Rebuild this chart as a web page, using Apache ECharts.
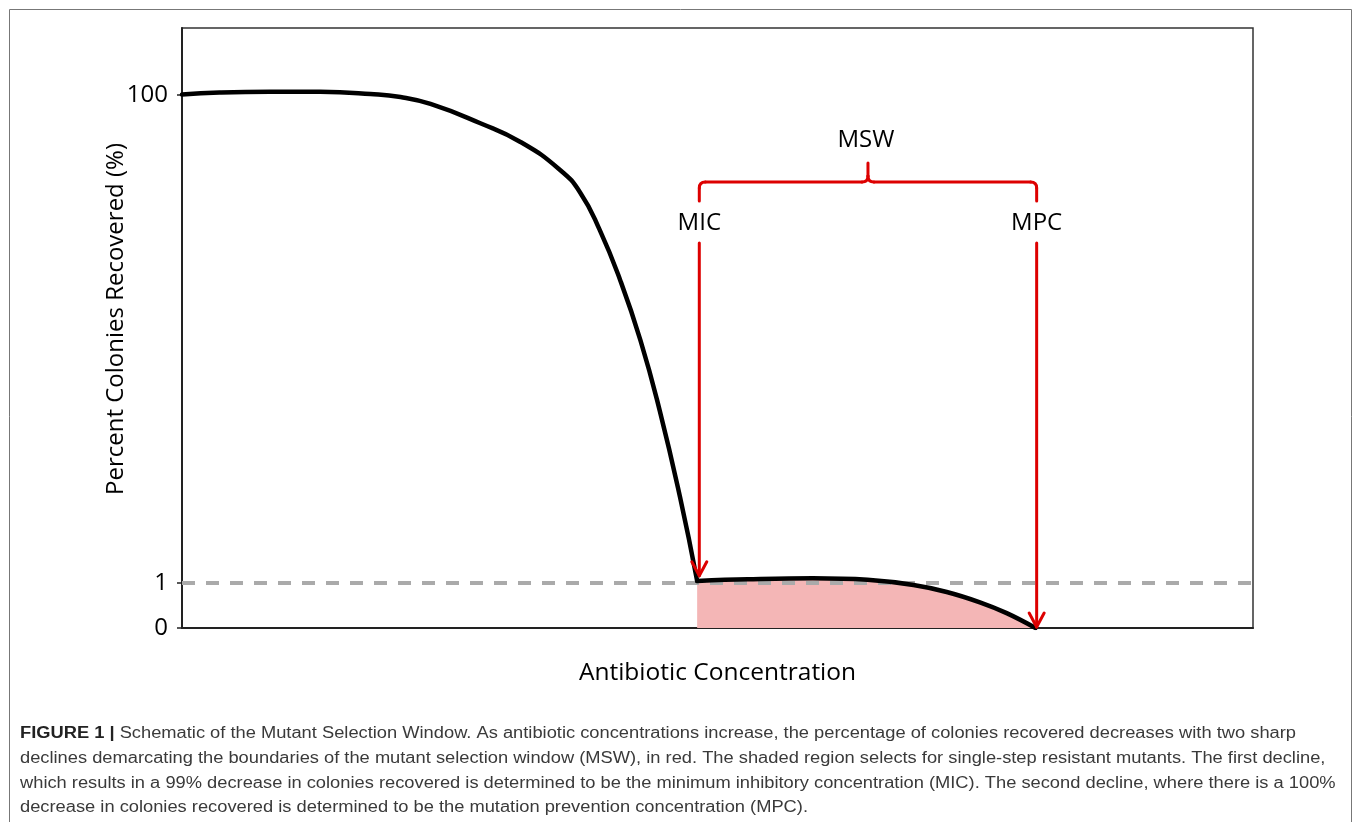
<!DOCTYPE html>
<html>
<head>
<meta charset="utf-8">
<script src="https://cdn.jsdelivr.net/npm/echarts@6/dist/echarts.min.js"></script>
<style>
html,body{margin:0;padding:0;background:#fff;}
#c{width:1357px;height:822px;}
</style>
</head>
<body>
<div id="c"></div>
<script>
// ---- data (schematic) ----
const upperConc = [0, 3.5, 8.2, 12.9, 17.6, 20.4, 23.2, 27.8, 31.6, 35.3, 37.2, 39.0, 40.9, 42.8, 44.6, 46.5, 48.1];
const upperPct  = [100.5, 102.4, 103.2, 103, 100.9, 98.1, 91.9, 76.8, 64.2, 49.3, 39.7, 28.0, 17.5, 9.9, 5.1, 2.25, 1.02];
const lowerConc = [48.1, 52.8, 58.9, 64.0, 68.3, 71.4, 74.5, 77.0, 79.7];
const lowerPct  = [1.02, 1.035, 1.045, 1.03, 0.955, 0.80, 0.57, 0.33, 0];
const yTicks = [0, 1, 100];
const micConc = 48.3;
const mpcConc = 79.8;
const micTargetPct = 1.06;
const mpcTargetPct = 0;
const thresholdPct = 1;
const xTitle = 'Antibiotic Concentration';
const yTitle = 'Percent Colonies Recovered (%)';
const captionLines = [
  'Schematic of the Mutant Selection Window. As antibiotic concentrations increase, the percentage of colonies recovered decreases with two sharp',
  'declines demarcating the boundaries of the mutant selection window (MSW), in red. The shaded region selects for single-step resistant mutants. The first decline,',
  'which results in a 99% decrease in colonies recovered is determined to be the minimum inhibitory concentration (MIC). The second decline, where there is a 100%',
  'decrease in colonies recovered is determined to be the mutation prevention concentration (MPC).'
];
const captionLead = 'FIGURE 1 |';

// piecewise scale: linear from 0 to 1 %, logarithmic above 1 %
const LIN = 45, DEC = 244;
function f(p){ return p <= 1 ? LIN * p : LIN + DEC * Math.log10(p); }

const upperData = upperConc.map((x,i)=>[x, f(upperPct[i])]);
const lowerData = lowerConc.map((x,i)=>[x, f(lowerPct[i])]);
const yTickPos = yTicks.map(f);

const chart = echarts.init(document.getElementById('c'), null, {renderer:'canvas'});
const FONT = '"Open Sans", sans-serif';
const RED = '#DD0000';

chart.setOption({
  animation:false,
  backgroundColor:'#fff',
  grid:{left:182, top:28, width:1071, height:600, show:true, borderColor:'#333', borderWidth:1.5, backgroundColor:'transparent'},
  xAxis:{type:'value', min:0, max:100,
    axisLine:{show:true, onZero:false, lineStyle:{color:'#222', width:2}},
    axisTick:{show:false}, axisLabel:{show:false}, splitLine:{show:false},
    name:xTitle, nameLocation:'middle', nameGap:33,
    nameTextStyle:{fontFamily:FONT, fontSize:24.5, color:'#000'}},
  yAxis:{type:'value', min:0, max:600,
    axisLine:{show:true, lineStyle:{color:'#222', width:2}},
    axisTick:{show:true, length:5, customValues:yTickPos, lineStyle:{color:'#222', width:1.5}},
    axisLabel:{show:true, customValues:yTickPos, margin:14, fontFamily:FONT, fontSize:24, color:'#000',
      formatter:(v)=>{ const i = yTickPos.findIndex(t=>Math.abs(t-v)<1e-6); return i>=0 ? String(yTicks[i]) : ''; }},
    splitLine:{show:false}},
  series:[
    {type:'line', name:'shade', data:lowerData, smooth:0.4, symbol:'none', z:1,
      lineStyle:{width:0}, areaStyle:{color:'#F4B6B6', opacity:1}},
    {type:'line', name:'threshold', data:[], z:3,
      markLine:{silent:true, symbol:'none', z:3, label:{show:false},
        lineStyle:{color:'#AAAAAA', width:4, type:[13,11]},
        data:[{yAxis:f(thresholdPct)}]}},
    {type:'line', name:'upper', data:upperData, smooth:0.5, symbol:'none', z:10,
      lineStyle:{color:'#000', width:4.5, cap:'round', join:'round'}},
    {type:'line', name:'lower', data:lowerData, smooth:0.4, symbol:'none', z:10,
      lineStyle:{color:'#000', width:4.5, cap:'round', join:'round'}}
  ]
});

function px(x, u){ return chart.convertToPixel({xAxisIndex:0, yAxisIndex:0}, [x, u]); }

// annotation geometry (axis units)
const braceU = 446, braceEndU = 427, braceTipU = 465, arrowTopU = 385, labelU = 405, mswU = 488;
const pL = px(micConc, braceU), pR = px(mpcConc, braceU);
const yB = pL[1], yEnd = px(0, braceEndU)[1], yTip = px(0, braceTipU)[1];
const xL = pL[0], xR = pR[0], xM = (xL + xR)/2;
const r = 6;
const redStyle = {stroke:RED, lineWidth:3, fill:null, lineCap:'round', lineJoin:'round'};
const g = [];
// brace
g.push({type:'line', shape:{x1:xL, y1:yEnd, x2:xL, y2:yB+r}, style:redStyle, z:20});
g.push({type:'bezierCurve', shape:{x1:xL, y1:yB+r, x2:xL+r, y2:yB, cpx1:xL, cpy1:yB}, style:redStyle, z:20});
g.push({type:'line', shape:{x1:xL+r, y1:yB, x2:xM-r, y2:yB}, style:redStyle, z:20});
g.push({type:'bezierCurve', shape:{x1:xM-r, y1:yB, x2:xM, y2:yB-r, cpx1:xM, cpy1:yB}, style:redStyle, z:20});
g.push({type:'line', shape:{x1:xM, y1:yB-r, x2:xM, y2:yTip}, style:redStyle, z:20});
g.push({type:'bezierCurve', shape:{x1:xM, y1:yB-r, x2:xM+r, y2:yB, cpx1:xM, cpy1:yB}, style:redStyle, z:20});
g.push({type:'line', shape:{x1:xM+r, y1:yB, x2:xR-r, y2:yB}, style:redStyle, z:20});
g.push({type:'bezierCurve', shape:{x1:xR-r, y1:yB, x2:xR, y2:yB+r, cpx1:xR, cpy1:yB}, style:redStyle, z:20});
g.push({type:'line', shape:{x1:xR, y1:yB+r, x2:xR, y2:yEnd}, style:redStyle, z:20});
// arrows
[[micConc, micTargetPct],[mpcConc, mpcTargetPct]].forEach(([cx, tp])=>{
  const top = px(cx, arrowTopU), tip = px(cx, f(tp));
  g.push({type:'line', shape:{x1:top[0], y1:top[1], x2:tip[0], y2:tip[1]-1}, style:redStyle, z:20});
  g.push({type:'polyline', shape:{points:[[tip[0]-7.5, tip[1]-15],[tip[0], tip[1]-1],[tip[0]+7.5, tip[1]-15]]}, style:redStyle, z:20});
});
// labels
const lblStyle = (t)=>({text:t, fontFamily:FONT, fontSize:24, fill:'#000', align:'center', verticalAlign:'middle'});
const mswP = px((micConc+mpcConc)/2, mswU);
g.push({type:'text', x:mswP[0]-2, y:mswP[1], style:lblStyle('MSW'), z:20});
const micP = px(micConc, labelU), mpcP = px(mpcConc, labelU);
g.push({type:'text', x:micP[0], y:micP[1], style:lblStyle('MIC'), z:20});
g.push({type:'text', x:mpcP[0], y:mpcP[1], style:lblStyle('MPC'), z:20});

// y-axis title
g.push({type:'text', x:116, y:319, rotation:Math.PI/2, z:20,
  style:{text:yTitle, fontFamily:FONT, fontSize:24, fill:'#000', align:'center', verticalAlign:'middle'}});

// outer figure frame
g.push({type:'rect', shape:{x:9.5, y:9.5, width:1342, height:830}, style:{stroke:'#777', lineWidth:1, fill:null}, z:0});

// caption
const CAP_FONT = '"Liberation Sans", Arial, sans-serif';
const cv = document.createElement('canvas').getContext('2d');
cv.font = 'bold 16px ' + CAP_FONT;
const wLead = cv.measureText(captionLead + ' ').width;
cv.font = '16px ' + CAP_FONT;
const wRest = cv.measureText(captionLines[0]).width;
const sx = 1276 / (wLead + wRest);
const capY = [734, 759, 784, 808];
captionLines.forEach((line, i)=>{
  const txt = i === 0 ? '{b|' + captionLead + '} ' + line : line;
  g.push({type:'text', x:20, y:capY[i], scaleX:sx, z:20,
    style:{text:txt, fontFamily:CAP_FONT, fontSize:16, fill:'#3a3a3a', verticalAlign:'middle', align:'left',
      rich:{b:{fontFamily:CAP_FONT, fontSize:16, fontWeight:'bold', fill:'#222'}}}});
});

chart.setOption({graphic:g});
</script>
</body>
</html>
